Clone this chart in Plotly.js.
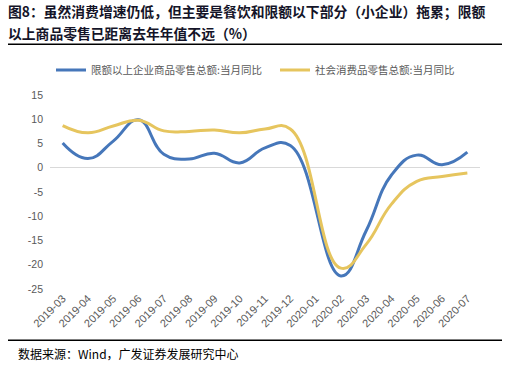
<!DOCTYPE html>
<html>
<head>
<meta charset="utf-8">
<script src="https://cdn.plot.ly/plotly-3.0.1.min.js"></script>
<style>
  html, body { margin: 0; padding: 0; background: #fff; }
  #chart { width: 510px; height: 365px; }
</style>
</head>
<body>
<div id="chart"></div>
<script>
// ---- data ----
const categories = ['2019-03','2019-04','2019-05','2019-06','2019-07','2019-08','2019-09','2019-10','2019-11','2019-12',
                    '2020-01','2020-02','2020-03','2020-04','2020-05','2020-06','2020-07'];
const aboveLimitRetail = [5.1, 1.9, 5.5, 9.9, 2.8, 1.8, 3.0, 1.0, 4.1, 4.6, null, -22.3, -13.0, -1.5, 2.6, 0.6, 3.2];
const totalRetail      = [8.7, 7.2, 8.6, 9.8, 7.6, 7.5, 7.8, 7.2, 8.0, 8.0, null, -20.7, -15.8, -7.5, -2.8, -1.8, -1.1];
const seriesNames = ['限额以上企业商品零售总额:当月同比', '社会消费品零售总额:当月同比'];
const yTicks = [15, 10, 5, 0, -5, -10, -15, -20, -25];
const titleLine1 = '图8：虽然消费增速仍低，但主要是餐饮和限额以下部分（小企业）拖累；限额';
const titleLine2 = '以上商品零售已距离去年年值不远（%）';
const sourceText = '数据来源：Wind，广发证券发展研究中心';

// ---- layout helpers (pixel -> paper) ----
const W = 510, H = 365;
const m = {l: 50, r: 30, t: 95, b: 75.5};
const pw = W - m.l - m.r, ph = H - m.t - m.b;
const px = x => (x - m.l) / pw;
const py = y => (H - m.b - y) / ph;

const cjk = '"Noto Sans CJK SC", "Noto Sans", sans-serif';
const latin = '"Liberation Sans", Arial, sans-serif';

const traces = [
  {x: categories, y: aboveLimitRetail, name: seriesNames[0], type: 'scatter', mode: 'lines', legend: 'legend',
   connectgaps: true, line: {color: '#4677BA', width: 3, shape: 'spline', smoothing: 1.3}},
  {x: categories, y: totalRetail, name: seriesNames[1], type: 'scatter', mode: 'lines', legend: 'legend2',
   connectgaps: true, line: {color: '#E6C55E', width: 3, shape: 'spline', smoothing: 1.3}}
];

const legendBase = {
  orientation: 'h', xanchor: 'left', yanchor: 'middle',
  font: {family: cjk, size: 10.5, color: '#595959'},
  bgcolor: 'rgba(0,0,0,0)', itemwidth: 30
};

const layout = {
  width: W, height: H,
  margin: m,
  paper_bgcolor: '#fff', plot_bgcolor: '#fff',
  showlegend: true,
  legend: Object.assign({}, legendBase, {x: px(51), y: py(70)}),
  legend2: Object.assign({}, legendBase, {x: px(275), y: py(70)}),
  xaxis: {
    type: 'category', range: [-0.5, categories.length - 0.5],
    showgrid: false, zeroline: false, showline: false, ticks: '',
    tickangle: -45, tickfont: {family: latin, size: 11, color: '#595959'}
  },
  yaxis: {
    range: [-25, 15], tickvals: yTicks, ticktext: yTicks.map(String),
    showgrid: false, showline: false, ticks: '',
    zeroline: true, zerolinecolor: '#D9D9D9', zerolinewidth: 1,
    ticklabelstandoff: 6,
    tickfont: {family: latin, size: 10.5, color: '#595959'}
  },
  shapes: [
    {type: 'line', xref: 'paper', yref: 'paper', x0: px(8), x1: px(502), y0: py(44), y1: py(44),
     line: {color: '#000', width: 1.5}},
    {type: 'line', xref: 'paper', yref: 'paper', x0: px(8), x1: px(502), y0: py(341), y1: py(341),
     line: {color: '#000', width: 1.5}}
  ],
  annotations: [
    {xref: 'paper', yref: 'paper', x: px(6), y: py(11), xanchor: 'left', yanchor: 'middle', showarrow: false,
     text: '<b>' + titleLine1 + '</b>', font: {family: cjk, size: 13.8, color: '#141428'}},
    {xref: 'paper', yref: 'paper', x: px(6), y: py(33), xanchor: 'left', yanchor: 'middle', showarrow: false,
     text: '<b>' + titleLine2 + '</b>', font: {family: cjk, size: 13.8, color: '#141428'}},
    {xref: 'paper', yref: 'paper', x: px(16), y: py(354), xanchor: 'left', yanchor: 'middle', showarrow: false,
     text: sourceText, font: {family: cjk, size: 12, color: '#000'}}
  ]
};

Plotly.newPlot('chart', traces, layout, {displayModeBar: false, staticPlot: true});
</script>
</body>
</html>
